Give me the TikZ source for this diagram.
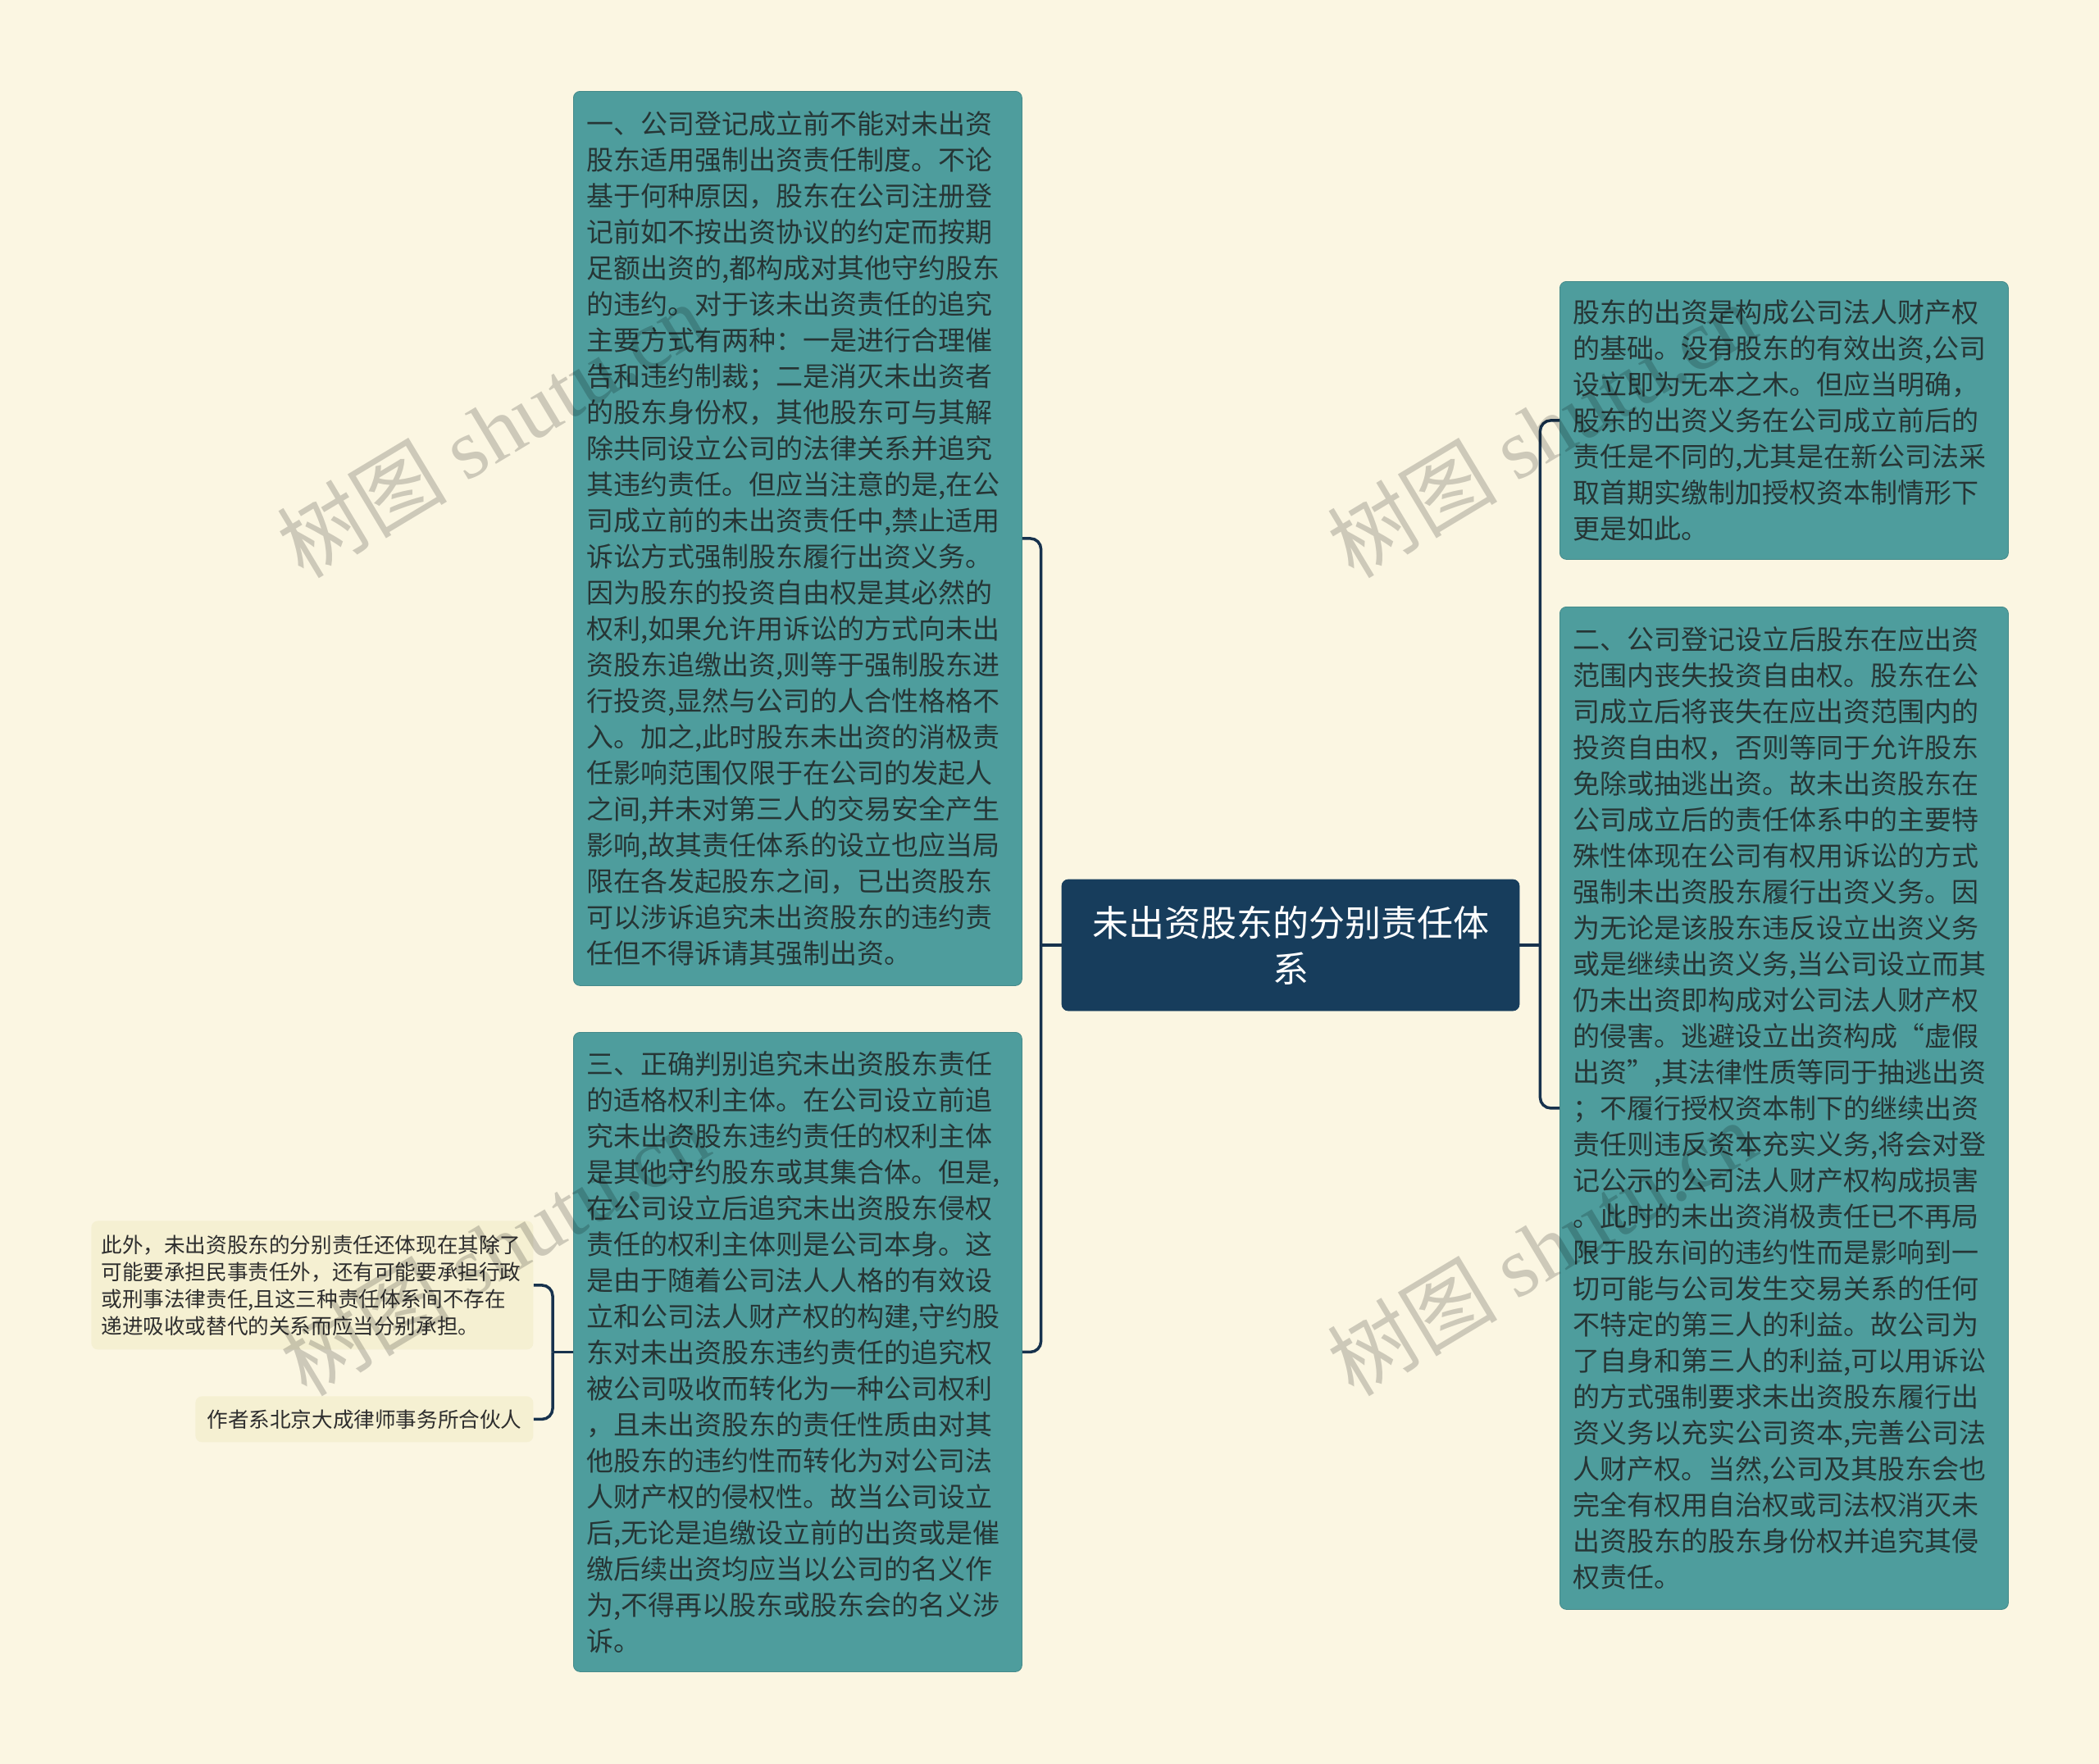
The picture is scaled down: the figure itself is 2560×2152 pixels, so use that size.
\documentclass[tikz,border=0pt]{standalone}
\usepackage{fontspec}
\setmainfont{Noto Sans CJK SC}
\newfontfamily\wmlatin{Liberation Serif}
\definecolor{bgc}{HTML}{FBF6E2}
\definecolor{boxteal}{HTML}{4E9D9D}
\definecolor{boxtext}{HTML}{263535}
\definecolor{navy}{HTML}{173D5C}
\definecolor{linec}{HTML}{17324D}
\definecolor{notefill}{HTML}{F5F0D2}
\definecolor{notetext}{HTML}{2E2E2E}
\begin{document}
\begin{tikzpicture}[x=0.5pt,y=-0.5pt,
  conn/.style={draw=linec,line width=1.75pt},
  tealbox/.style={rectangle,rounded corners=4pt,fill=boxteal,draw=boxteal!88!black,line width=0.4pt,
    text=boxtext,font=\fontsize{16.5pt}{22pt}\selectfont,align=left,text width=257.5pt,
    inner xsep=8pt,inner ysep=0pt,anchor=north west,minimum width=273.5pt},
  titlebox/.style={rectangle,rounded corners=4pt,fill=navy,draw=navy,text=white,
    font=\fontsize{22pt}{28pt}\selectfont,align=center,inner sep=0pt,
    minimum width=279pt,minimum height=80pt},
  notebox/.style={rectangle,rounded corners=4pt,fill=notefill,draw=none,text=notetext,
    font=\fontsize{12.8pt}{16.5pt}\selectfont,anchor=north west,inner ysep=0pt},
  wmark/.style={text=black,text opacity=0.18,font=\fontsize{52pt}{52pt}\selectfont,
    rotate=31,anchor=base west,inner sep=0pt}
]
\useasboundingbox[fill=bgc] (0,0) rectangle (2560,2152);

% central topic
\node[titlebox] (T) at (1574,1153) {未出资股东的分别责任体\\系};

% left boxes
\node[tealbox,minimum height=545.5pt] (A) at (699,111) {一、公司登记成立前不能对未出资\\
股东适用强制出资责任制度。不论\\
基于何种原因，股东在公司注册登\\
记前如不按出资协议的约定而按期\\
足额出资的,都构成对其他守约股东\\
的违约。对于该未出资责任的追究\\
主要方式有两种：一是进行合理催\\
告和违约制裁；二是消灭未出资者\\
的股东身份权，其他股东可与其解\\
除共同设立公司的法律关系并追究\\
其违约责任。但应当注意的是,在公\\
司成立前的未出资责任中,禁止适用\\
诉讼方式强制股东履行出资义务。\\
因为股东的投资自由权是其必然的\\
权利,如果允许用诉讼的方式向未出\\
资股东追缴出资,则等于强制股东进\\
行投资,显然与公司的人合性格格不\\
入。加之,此时股东未出资的消极责\\
任影响范围仅限于在公司的发起人\\
之间,并未对第三人的交易安全产生\\
影响,故其责任体系的设立也应当局\\
限在各发起股东之间，已出资股东\\
可以涉诉追究未出资股东的违约责\\
任但不得诉请其强制出资。};

\node[tealbox,minimum height=390pt] (C) at (699,1259) {三、正确判别追究未出资股东责任\\
的适格权利主体。在公司设立前追\\
究未出资股东违约责任的权利主体\\
是其他守约股东或其集合体。但是,\\
在公司设立后追究未出资股东侵权\\
责任的权利主体则是公司本身。这\\
是由于随着公司法人人格的有效设\\
立和公司法人财产权的构建,守约股\\
东对未出资股东违约责任的追究权\\
被公司吸收而转化为一种公司权利\\
，且未出资股东的责任性质由对其\\
他股东的违约性而转化为对公司法\\
人财产权的侵权性。故当公司设立\\
后,无论是追缴设立前的出资或是催\\
缴后续出资均应当以公司的名义作\\
为,不得再以股东或股东会的名义涉\\
诉。};

% right boxes
\node[tealbox,minimum height=169.5pt] (B1) at (1902,343) {股东的出资是构成公司法人财产权\\
的基础。没有股东的有效出资,公司\\
设立即为无本之木。但应当明确，\\
股东的出资义务在公司成立前后的\\
责任是不同的,尤其是在新公司法采\\
取首期实缴制加授权资本制情形下\\
更是如此。};

\node[tealbox,minimum height=611.5pt] (B2) at (1902,740) {二、公司登记设立后股东在应出资\\
范围内丧失投资自由权。股东在公\\
司成立后将丧失在应出资范围内的\\
投资自由权，否则等同于允许股东\\
免除或抽逃出资。故未出资股东在\\
公司成立后的责任体系中的主要特\\
殊性体现在公司有权用诉讼的方式\\
强制未出资股东履行出资义务。因\\
为无论是该股东违反设立出资义务\\
或是继续出资义务,当公司设立而其\\
仍未出资即构成对公司法人财产权\\
的侵害。逃避设立出资构成“虚假\\
出资”,其法律性质等同于抽逃出资\\
；不履行授权资本制下的继续出资\\
责任则违反资本充实义务,将会对登\\
记公示的公司法人财产权构成损害\\
。此时的未出资消极责任已不再局\\
限于股东间的违约性而是影响到一\\
切可能与公司发生交易关系的任何\\
不特定的第三人的利益。故公司为\\
了自身和第三人的利益,可以用诉讼\\
的方式强制要求未出资股东履行出\\
资义务以充实公司资本,完善公司法\\
人财产权。当然,公司及其股东会也\\
完全有权用自治权或司法权消灭未\\
出资股东的股东身份权并追究其侵\\
权责任。};

% small notes
\node[notebox,align=left,text width=257.5pt,inner xsep=6pt,minimum width=269.5pt,minimum height=78.5pt] (D1) at (111,1489) {此外，未出资股东的分别责任还体现在其除了\\
可能要承担民事责任外，还有可能要承担行政\\
或刑事法律责任,且这三种责任体系间不存在\\
递进吸收或替代的关系而应当分别承担。};
\node[notebox,align=center,inner xsep=0pt,minimum width=206pt,minimum height=28pt] (D2) at (238,1703) {作者系北京大成律师事务所合伙人};

% connectors
\path (T.west) ++(-25,0) coordinate (jl);
\path (T.east) ++(25,0) coordinate (jr);
\path (C.west) ++(-25,0) coordinate (jc);
\draw[conn] (T.west) -- (jl);
\draw[conn,rounded corners=6.5pt] (jl) |- (A.east);
\draw[conn,rounded corners=6.5pt] (jl) |- (C.east);
\draw[conn] (T.east) -- (jr);
\draw[conn,rounded corners=6.5pt] (jr) |- (B1.west);
\draw[conn,rounded corners=6.5pt] (jr) |- (B2.west);
\draw[conn] (C.west) -- (jc);
\draw[conn,rounded corners=6.5pt] (jc) |- (D1.east);
\draw[conn,rounded corners=6.5pt] (jc) |- (D2.east);

% watermarks
\node[wmark] (w1) at (370,708) {树图 {\wmlatin shutu.cn}};
\node[wmark] (w2) at (1651,708) {树图 {\wmlatin shutu.cn}};
\node[wmark] (w3) at (1651,1706) {树图 {\wmlatin shutu.cn}};
\node[wmark] (w4) at (374,1706) {树图 {\wmlatin shutu.cn}};
\end{tikzpicture}
\end{document}
